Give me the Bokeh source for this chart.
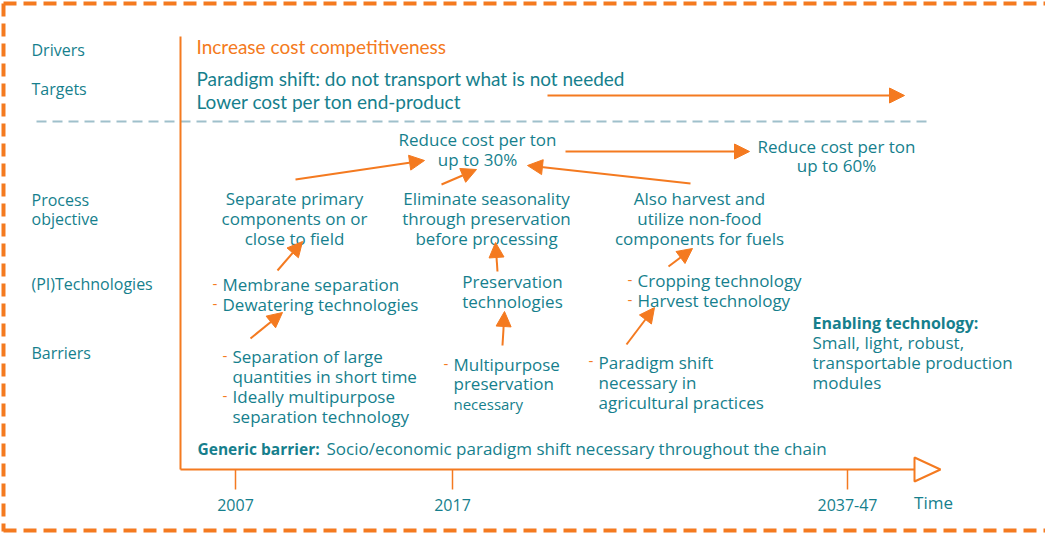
from bokeh.plotting import figure
from bokeh.models import Range1d, Arrow, NormalHead, ColumnDataSource
from bokeh.embed import file_html
from bokeh.resources import INLINE
from bokeh.core.properties import value

ORANGE = "#f47a20"
TEAL = "#167f8d"
GRAY = "#9fc0cb"

# ---- data: texts ----
row_labels = ["Drivers", "Targets", "Process", "objective", "(PI)Technologies", "Barriers"]
row_label_y = [57, 96, 207, 226, 291, 360]

driver_text = ["Increase cost competitiveness"]
target_texts = ["Paradigm shift: do not transport what is not needed", "Lower cost per ton end-product"]

time_ticks = ["2007", "2017", "2037-47"]
time_tick_x = [243, 460, 855]

goal30 = ["Reduce cost per ton", "up to 30%"]
goal60 = ["Reduce cost per ton", "up to 60%"]

objectives = [
    ["Separate primary", "components on or", "close to field"],
    ["Eliminate seasonality", "through preservation", "before processing"],
    ["Also harvest and", "utilize non-food", "components for fuels"],
]
objective_x = [302, 494, 707]

tech_left = ["Membrane separation", "Dewatering technologies"]
tech_mid = ["Preservation", "technologies"]
tech_right = ["Cropping technology", "Harvest technology"]

barrier_left = ["Separation of large", "quantities in short time", "Ideally multipurpose", "separation technology"]
barrier_mid = ["Multipurpose", "preservation", "necessary"]
barrier_right = ["Paradigm shift", "necessary in", "agricultural practices"]

enabling_title = "Enabling technology:"
enabling_lines = ["Small, light, robust,", "transportable production", "modules"]

generic_title = "Generic barrier:"
generic_text = "Socio/economic paradigm shift necessary throughout the chain"

# arrows (start -> tip), diagram coordinates
arrow_x0 = [303, 449, 698, 573, 285, 505, 676, 258, 510, 634]
arrow_y0 = [187, 192, 191, 159, 278, 279, 274, 346, 353, 352]
arrow_x1 = [432, 484, 535, 757, 310, 503, 700, 290, 512, 662]
arrow_y1 = [168, 177, 173, 159, 249, 250, 256, 320, 319, 315]

p = figure(width=1045, height=533, x_range=Range1d(8, 1053), y_range=Range1d(541, 8),
           output_backend="svg", toolbar_location=None, min_border=0)
p.axis.visible = False
p.grid.visible = False
p.outline_line_color = None
p.background_fill_color = "white"

# dashed border
p.line([11, 1053], [11, 11], line_color=ORANGE, line_width=4, line_dash="13 7")
p.line([11, 11], [11, 539], line_color=ORANGE, line_width=4, line_dash="13 7")
p.line([11, 1053], [538, 538], line_color=ORANGE, line_width=4, line_dash="13 7")

# gray separator
p.line([44, 936], [129, 129], line_color=GRAY, line_width=2, line_dash="10 6")

# axes
p.line([188, 188], [44, 477], line_color=ORANGE, line_width=2)
p.line([188, 922], [477, 477], line_color=ORANGE, line_width=2)
p.patch([922, 948, 922], [465, 477, 489], fill_color="white", line_color=ORANGE, line_width=2)
for tx in time_tick_x:
    p.line([tx, tx], [477, 497], line_color=ORANGE, line_width=1.5)

F = value("Open Sans")


def block(xs, ys, texts, align="left", style="normal", size="17px", color=TEAL, font=F):
    p.text(x=xs, y=ys, text=texts, text_align=align, text_baseline="middle",
           text_color=color, text_font=font, text_font_size=size, text_font_style=style)


def dashes(xs, ys):
    block(xs, ys, ["-"] * len(xs), color=ORANGE, size="15px")


block(time_tick_x, [512] * 3, time_ticks, align="center", size="16px")
block([941], [510], ["Time"], align="center", size="17px")

# row labels
block([39] * len(row_labels), row_label_y, row_labels, size="16px")

# drivers / targets
block([204], [54], driver_text, color=ORANGE, size="19px", font=value("Lato"))
block([204, 204], [86, 109], target_texts, size="19px", font=value("Lato"))
p.add_layout(Arrow(end=NormalHead(size=15, fill_color=ORANGE, line_color=ORANGE),
                   x_start=555, y_start=103, x_end=912, y_end=103,
                   line_color=ORANGE, line_width=2))

block([485, 485], [147, 167], goal30, align="center")
block([844, 844], [154, 173], goal60, align="center")

for ox, lines in zip(objective_x, objectives):
    block([ox] * 3, [206, 226, 246], lines, align="center")

dashes([220, 220], [291, 311])
block([230, 230], [292, 312], tech_left)
block([520, 520], [289, 309], tech_mid, align="center")
dashes([635, 635], [287, 307])
block([645, 645], [288, 308], tech_right)

dashes([230, 230], [363, 403])
block([240] * 4, [364, 384, 404, 424], barrier_left)
dashes([451], [371])
block([461, 461], [372, 391], barrier_mid[:2])
block([461], [411], barrier_mid[2:], size="15px")
dashes([596], [368])
block([606] * 3, [370, 390, 410], barrier_right)

block([820], [330], [enabling_title], style="bold", size="16px")
block([820] * 3, [350, 370, 390], enabling_lines)

block([205], [456], [generic_title], style="bold", size="15.5px")
block([334], [456], [generic_text])

# arrows
src = ColumnDataSource(dict(x0=arrow_x0, y0=arrow_y0, x1=arrow_x1, y1=arrow_y1))
p.add_layout(Arrow(end=NormalHead(size=15, fill_color=ORANGE, line_color=ORANGE),
                   x_start="x0", y_start="y0", x_end="x1", y_end="y1", source=src,
                   line_color=ORANGE, line_width=2))

open("out.html", "w").write(file_html(p, INLINE))
